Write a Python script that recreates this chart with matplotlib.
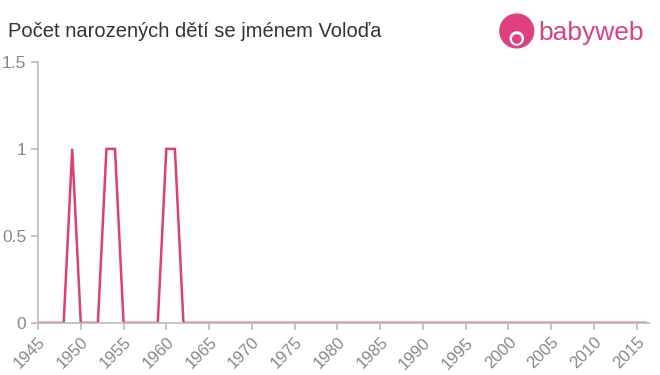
import numpy as np
import matplotlib.pyplot as plt
from matplotlib.patches import Circle

plt.rcParams['font.family'] = ['Liberation Sans', 'DejaVu Sans']

# data
years = list(range(1945, 2017))
peaks = {1949: 1, 1953: 1, 1954: 1, 1960: 1, 1961: 1}
counts = [peaks.get(y, 0) for y in years]

xticks = list(range(1945, 2016, 5))
yticks = [0, 0.5, 1, 1.5]
ytick_labels = ["0", "0.5", "1", "1.5"]

fig = plt.figure(figsize=(6.6, 3.75), dpi=100)
ax = fig.add_axes([0.0576, 0.139, 0.9254, 0.696])

ax.plot(years, counts, color="#e0406a", linewidth=1.8, solid_joinstyle="miter")

ax.set_xlim(1945, 2016.4)
ax.set_ylim(0, 1.5)
ax.set_xticks(xticks)
ax.set_xticklabels([str(x) for x in xticks], rotation=45, ha="right", rotation_mode="anchor")
ax.set_yticks(yticks)
ax.set_yticklabels(ytick_labels)

for s in ["top", "right"]:
    ax.spines[s].set_visible(False)
for s in ["left", "bottom"]:
    ax.spines[s].set_color("#bbbbbb")
    ax.spines[s].set_linewidth(1.2)
ax.tick_params(colors="#bbbbbb", labelcolor="#888888", labelsize=12, length=5, width=1.2)
ax.tick_params(axis="y", labelsize=12.5)

fig.text(0.012, 0.915, "Počet narozených dětí se jménem Voloďa", fontsize=14.5, color="#333333", va="center")

# logo
logo = fig.add_axes([0.752, 0.865, 0.062, 0.1])
logo.set_xlim(-1, 1)
logo.set_ylim(-1, 1)
logo.set_aspect("equal")
logo.axis("off")
logo.add_patch(Circle((0, 0.05), 0.9, color="#e0407f"))
logo.add_patch(Circle((0, -0.35), 0.35, color="white"))
logo.add_patch(Circle((0, -0.38), 0.22, color="#e0407f"))
fig.text(0.815, 0.912, "babyweb", fontsize=19, color="#e0407f", va="center")

fig.savefig("out.png", dpi=100)
